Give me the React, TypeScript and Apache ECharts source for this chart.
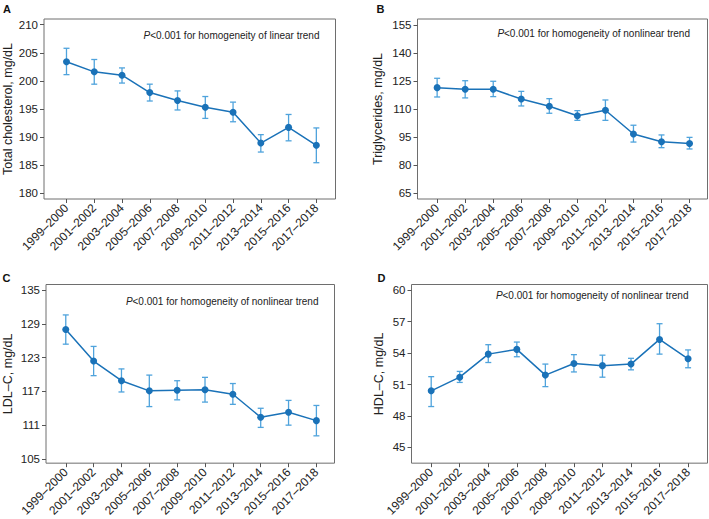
import React, { useEffect, useRef } from "react";
import * as echarts from "echarts";

const categories = [
  "1999–2000", "2001–2002", "2003–2004", "2005–2006", "2007–2008",
  "2009–2010", "2011–2012", "2013–2014", "2015–2016", "2017–2018",
];

// Panel A: Total cholesterol
const tcMean = [203.4, 201.6, 201.0, 197.9, 196.5, 195.3, 194.4, 188.9, 191.7, 188.5];
const tcLow = [201.1, 199.4, 199.6, 196.4, 194.8, 193.3, 192.7, 187.3, 189.3, 185.4];
const tcHigh = [205.8, 203.8, 202.3, 199.4, 198.2, 197.2, 196.2, 190.4, 194.0, 191.6];
const tcTicks = [180, 185, 190, 195, 200, 205, 210];

// Panel B: Triglycerides
const tgMean = [121.5, 120.6, 120.6, 115.4, 111.5, 106.5, 109.4, 96.7, 92.6, 91.6];
const tgLow = [116.5, 116.0, 116.7, 111.7, 107.8, 104.0, 104.0, 92.4, 89.4, 88.7];
const tgHigh = [126.5, 125.2, 124.9, 119.5, 115.6, 109.2, 114.9, 101.4, 96.2, 94.9];
const tgTicks = [65, 80, 95, 110, 125, 140, 155];

// Panel C: LDL-C
const ldlMean = [128.0, 122.4, 118.9, 117.1, 117.2, 117.3, 116.5, 112.4, 113.3, 111.8];
const ldlLow = [125.4, 119.8, 116.9, 114.3, 115.5, 115.1, 114.7, 110.6, 111.0, 109.1];
const ldlHigh = [130.6, 125.0, 121.0, 119.9, 118.9, 119.5, 118.4, 114.0, 115.4, 114.5];
const ldlTicks = [105, 111, 117, 123, 129, 135];

// Panel D: HDL-C
const hdlMean = [50.4, 51.7, 53.9, 54.35, 51.9, 53.0, 52.8, 52.95, 55.3, 53.45];
const hdlLow = [48.9, 51.2, 53.1, 53.65, 50.8, 52.2, 51.7, 52.4, 53.9, 52.6];
const hdlHigh = [51.75, 52.25, 54.8, 55.05, 52.95, 53.85, 53.8, 53.5, 56.8, 54.3];
const hdlTicks = [45, 48, 51, 54, 57, 60];

const FONT = "'Liberation Sans', Arial, Helvetica, sans-serif";
const LINE_COLOR = "#1a72b8";
const ERR_COLOR = "#4fa3dc";
const BOX_COLOR = "#6e6e6e";
const TEXT_COLOR = "#222";

type Panel = {
  letter: string;
  yName: string;
  note: string;
  mean: number[];
  low: number[];
  high: number[];
  ticks: number[];
  grid: { left: number; top: number; width: number; height: number };
  xMin: number;
  xMax: number;
  yMin: number;
  yMax: number;
  nameGap: number;
  letterPos: [number, number];
  notePos: [number, number];
};

const panels: Panel[] = [
  {
    letter: "A", yName: "Total cholesterol, mg/dL", note: "linear",
    mean: tcMean, low: tcLow, high: tcHigh, ticks: tcTicks,
    grid: { left: 43.5, top: 19, width: 292, height: 180 },
    xMin: 0.19, xMax: 10.69, yMin: 178.93, yMax: 211.02, nameGap: 30,
    letterPos: [3, 3], notePos: [319.5, 35],
  },
  {
    letter: "B", yName: "Triglycerides, mg/dL", note: "nonlinear",
    mean: tgMean, low: tgLow, high: tgHigh, ticks: tgTicks,
    grid: { left: 417.5, top: 19, width: 290, height: 180 },
    xMin: 0.3, xMax: 10.64, yMin: 61.95, yMax: 158.2, nameGap: 33,
    letterPos: [376.5, 3], notePos: [690, 33.5],
  },
  {
    letter: "C", yName: "LDL–C, mg/dL", note: "nonlinear",
    mean: ldlMean, low: ldlLow, high: ldlHigh, ticks: ldlTicks,
    grid: { left: 46, top: 284.5, width: 288.5, height: 179 },
    xMin: 0.29, xMax: 10.65, yMin: 104.24, yMax: 136.01, nameGap: 32,
    letterPos: [2.5, 272], notePos: [318.5, 301],
  },
  {
    letter: "D", yName: "HDL–C, mg/dL", note: "nonlinear",
    mean: hdlMean, low: hdlLow, high: hdlHigh, ticks: hdlTicks,
    grid: { left: 411.5, top: 284.5, width: 296, height: 179 },
    xMin: 0.31, xMax: 10.68, yMin: 43.5, yMax: 60.54, nameGap: 26,
    letterPos: [377.5, 272], notePos: [688.5, 295.5],
  },
];

const xValues = categories.map((_, i) => i + 1);

function buildOption() {
  const grid: any[] = [];
  const xAxis: any[] = [];
  const yAxis: any[] = [];
  const series: any[] = [];
  const graphic: any[] = [];

  panels.forEach((p, k) => {
    grid.push({
      left: p.grid.left, top: p.grid.top, width: p.grid.width, height: p.grid.height,
      show: true, borderColor: BOX_COLOR, borderWidth: 1, backgroundColor: "transparent",
      containLabel: false,
    });
    xAxis.push({
      type: "value", gridIndex: k, min: p.xMin, max: p.xMax,
      axisLine: { show: false },
      splitLine: { show: false },
      axisTick: { show: true, length: 4, customValues: xValues, lineStyle: { color: "#555" } },
      axisLabel: {
        show: true, customValues: xValues, rotate: 45, margin: 7,
        fontFamily: FONT, fontSize: 12, color: TEXT_COLOR,
        formatter: (v: number) => categories[Math.round(v) - 1] ?? "",
      },
    });
    yAxis.push({
      type: "value", gridIndex: k, min: p.yMin, max: p.yMax,
      axisLine: { show: false },
      splitLine: { show: false },
      axisTick: { show: true, length: 4, customValues: p.ticks, lineStyle: { color: "#555" } },
      axisLabel: {
        show: true, customValues: p.ticks, margin: 6,
        fontFamily: FONT, fontSize: 11.5, color: TEXT_COLOR,
        formatter: (v: number) => String(v),
      },
      name: p.yName, nameLocation: "middle", nameGap: p.nameGap,
      nameTextStyle: { fontFamily: FONT, fontSize: 12.5, color: TEXT_COLOR },
    });

    const errData = xValues.map((x, i) => [x, p.low[i], p.high[i]]);
    series.push({
      type: "custom", xAxisIndex: k, yAxisIndex: k, z: 2,
      data: errData,
      encode: { x: 0, y: [1, 2] },
      renderItem: (_params: any, api: any) => {
        const x = api.value(0);
        const lo = api.coord([x, api.value(1)]);
        const hi = api.coord([x, api.value(2)]);
        const w = 3;
        const style = { stroke: ERR_COLOR, lineWidth: 1.3 };
        return {
          type: "group",
          children: [
            { type: "line", shape: { x1: lo[0], y1: lo[1], x2: hi[0], y2: hi[1] }, style },
            { type: "line", shape: { x1: lo[0] - w, y1: lo[1], x2: lo[0] + w, y2: lo[1] }, style },
            { type: "line", shape: { x1: hi[0] - w, y1: hi[1], x2: hi[0] + w, y2: hi[1] }, style },
          ],
        };
      },
    });
    series.push({
      type: "line", xAxisIndex: k, yAxisIndex: k, z: 3,
      data: xValues.map((x, i) => [x, p.mean[i]]),
      symbol: "circle", symbolSize: 7,
      lineStyle: { color: LINE_COLOR, width: 1.5 },
      itemStyle: { color: LINE_COLOR },
    });

    graphic.push({
      type: "text", left: p.letterPos[0], top: p.letterPos[1],
      style: { text: p.letter, font: `bold 11px ${FONT}`, fill: "#111" },
    });
    graphic.push({
      type: "text", x: p.notePos[0], y: p.notePos[1],
      style: {
        text: `{i|P}<0.001 for homogeneity of ${p.note} trend`,
        align: "right", verticalAlign: "middle",
        font: `10px ${FONT}`, fill: TEXT_COLOR,
        rich: { i: { fontStyle: "italic", font: `italic 10px ${FONT}`, fill: TEXT_COLOR } },
      },
    });
  });

  return {
    animation: false,
    backgroundColor: "#ffffff",
    grid, xAxis, yAxis, series, graphic,
  };
}

export default function App() {
  const ref = useRef<HTMLDivElement>(null);
  useEffect(() => {
    document.body.style.margin = "0";
    if (!ref.current) return;
    const chart = echarts.init(ref.current, undefined, { renderer: "svg" });
    chart.setOption(buildOption() as any);
    return () => chart.dispose();
  }, []);
  return <div ref={ref} style={{ width: 709, height: 519, position: "absolute", left: 0, top: 0 }} />;
}
